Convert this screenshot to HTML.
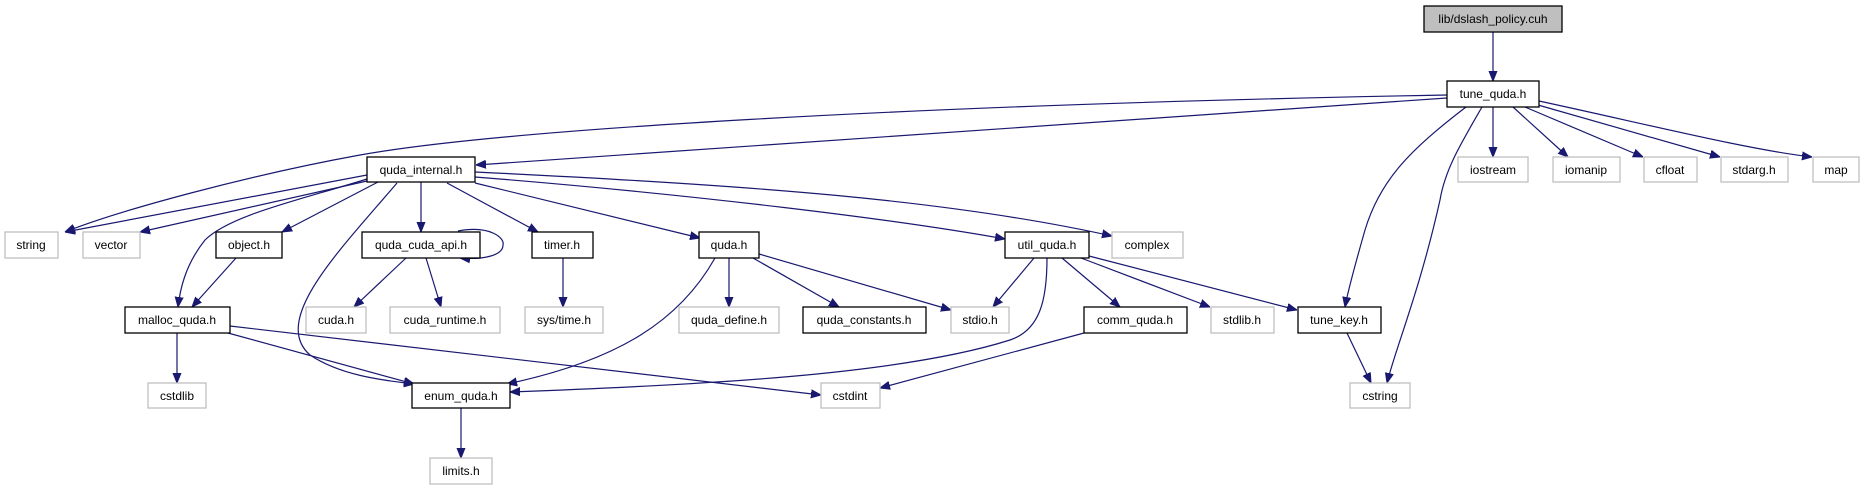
<!DOCTYPE html>
<html><head><meta charset="utf-8"><style>
html,body{margin:0;padding:0;background:#fff;}
svg{display:block;}
text{font-family:"Liberation Sans",sans-serif;font-size:12px;text-anchor:middle;fill:#000;}
.b{fill:#fff;stroke:#000;stroke-width:1.3;}
.g{fill:#fff;stroke:#bfbfbf;stroke-width:1.3;}
.e{fill:none;stroke:#191970;stroke-width:1.2;}
</style></head><body>
<svg width="1865" height="485" viewBox="0 0 1865 485" xmlns="http://www.w3.org/2000/svg">
<defs>
<marker id="a" viewBox="0 0 10 10" refX="10" refY="5" markerWidth="10" markerHeight="10" markerUnits="userSpaceOnUse" orient="auto">
<path d="M0,1 L10,5 L0,9 z" fill="#191970" stroke="#191970"/>
</marker>
</defs>
<g class="e" marker-end="url(#a)">
<path d="M1493,32 L1493,81"/>
<path d="M1447,95 C900,105 500,130 360,155 C250,175 120,210 65,232"/>
<path d="M1447,98 L476,165"/>
<path d="M1466,107 C1410,150 1380,180 1365,230 C1355,265 1348,290 1345,307"/>
<path d="M1482,107 C1460,145 1445,170 1440,200 C1420,290 1395,350 1387,383"/>
<path d="M1493,107 L1493,157"/>
<path d="M1513,107 L1568,157"/>
<path d="M1525,107 L1643,157"/>
<path d="M1538,105 L1720,157"/>
<path d="M1539,101 C1650,125 1750,150 1812,157"/>
<path d="M367,175 L65,232"/>
<path d="M367,181 L140,232"/>
<path d="M367,179 C300,200 230,215 205,240 C185,265 180,290 178,307"/>
<path d="M378,182 L282,232"/>
<path d="M397,183 C340,250 270,320 310,355 C340,375 380,380 414,384"/>
<path d="M421,182 L421,232"/>
<path d="M447,183 L538,232"/>
<path d="M475,183 L700,238"/>
<path d="M475,177 C700,195 900,220 1005,239"/>
<path d="M475,172 C750,185 950,200 1112,236"/>
<path d="M458,231 C490,225 505,238 503,245 C503,255 485,260 460,258"/>
<path d="M406,258 L354,307"/>
<path d="M426,258 L441,307"/>
<path d="M563,258 L563,307"/>
<path d="M715,258 C680,320 620,360 507,384"/>
<path d="M729,258 L729,307"/>
<path d="M753,258 L839,307"/>
<path d="M759,254 L951,310"/>
<path d="M236,258 L192,307"/>
<path d="M177,333 L177,383"/>
<path d="M228,333 L414,384"/>
<path d="M230,326 L821,395"/>
<path d="M461,408 L461,458"/>
<path d="M1034,258 L993,307"/>
<path d="M1047,258 C1047,300 1040,330 1010,340 C900,375 700,385 510,392"/>
<path d="M1062,258 L1120,307"/>
<path d="M1081,258 L1210,307"/>
<path d="M1089,256 L1297,310"/>
<path d="M1084,333 L880,388"/>
<path d="M1347,333 L1371,383"/>
</g>
<rect x="1424" y="6" width="138" height="26" fill="#bfbfbf" stroke="#000" stroke-width="1.3"/><text x="1493" y="23">lib/dslash_policy.cuh</text>
<rect class="b" x="1447" y="81" width="92" height="26"/><text x="1493" y="98">tune_quda.h</text>
<rect class="g" x="1458" y="157" width="70" height="25"/><text x="1493" y="174">iostream</text>
<rect class="g" x="1553" y="157" width="67" height="25"/><text x="1586" y="174">iomanip</text>
<rect class="g" x="1644" y="157" width="53" height="25"/><text x="1670" y="174">cfloat</text>
<rect class="g" x="1721" y="157" width="67" height="25"/><text x="1754" y="174">stdarg.h</text>
<rect class="g" x="1813" y="157" width="46" height="25"/><text x="1836" y="174">map</text>
<rect class="b" x="367" y="157" width="108" height="25"/><text x="421" y="174">quda_internal.h</text>
<rect class="g" x="5" y="232" width="53" height="26"/><text x="31" y="249">string</text>
<rect class="g" x="83" y="232" width="57" height="26"/><text x="111" y="249">vector</text>
<rect class="b" x="216" y="232" width="66" height="26"/><text x="249" y="249">object.h</text>
<rect class="b" x="362" y="232" width="118" height="26"/><text x="421" y="249">quda_cuda_api.h</text>
<rect class="b" x="532" y="232" width="61" height="26"/><text x="562" y="249">timer.h</text>
<rect class="b" x="699" y="232" width="60" height="26"/><text x="729" y="249">quda.h</text>
<rect class="b" x="1005" y="232" width="84" height="26"/><text x="1047" y="249">util_quda.h</text>
<rect class="g" x="1112" y="232" width="71" height="26"/><text x="1147" y="249">complex</text>
<rect class="b" x="125" y="307" width="105" height="26"/><text x="177" y="324">malloc_quda.h</text>
<rect class="g" x="306" y="307" width="60" height="26"/><text x="336" y="324">cuda.h</text>
<rect class="g" x="390" y="307" width="110" height="26"/><text x="445" y="324">cuda_runtime.h</text>
<rect class="g" x="525" y="307" width="78" height="26"/><text x="564" y="324">sys/time.h</text>
<rect class="g" x="679" y="307" width="100" height="26"/><text x="729" y="324">quda_define.h</text>
<rect class="b" x="803" y="307" width="123" height="26"/><text x="864" y="324">quda_constants.h</text>
<rect class="g" x="951" y="307" width="58" height="26"/><text x="980" y="324">stdio.h</text>
<rect class="b" x="1084" y="307" width="103" height="26"/><text x="1135" y="324">comm_quda.h</text>
<rect class="g" x="1211" y="307" width="63" height="26"/><text x="1242" y="324">stdlib.h</text>
<rect class="b" x="1298" y="307" width="83" height="26"/><text x="1339" y="324">tune_key.h</text>
<rect class="g" x="148" y="383" width="58" height="25"/><text x="177" y="400">cstdlib</text>
<rect class="b" x="412" y="383" width="98" height="25"/><text x="461" y="400">enum_quda.h</text>
<rect class="g" x="821" y="383" width="59" height="25"/><text x="850" y="400">cstdint</text>
<rect class="g" x="1350" y="383" width="60" height="25"/><text x="1380" y="400">cstring</text>
<rect class="g" x="430" y="458" width="62" height="26"/><text x="461" y="475">limits.h</text>
</svg>
</body></html>
